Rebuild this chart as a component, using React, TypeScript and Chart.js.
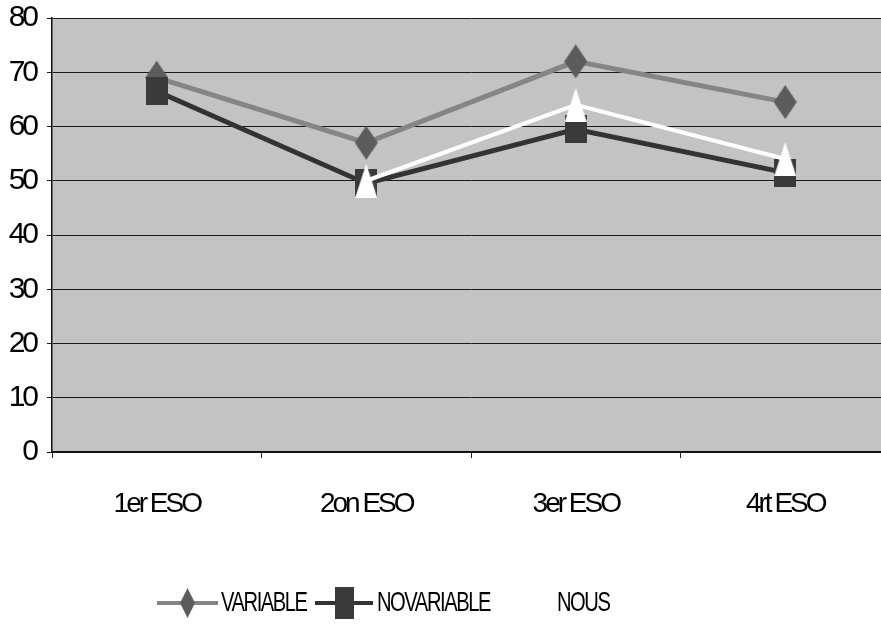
import React, { useEffect, useRef } from "react";
import { Chart, registerables } from "chart.js";

Chart.register(...registerables);

// Course levels along the x axis
const categories = ["1er ESO", "2on ESO", "3er ESO", "4rt ESO"];

// Series values (percent)
const variableValues = [69, 57, 72, 64.5];
const noVariableValues = [66.5, 49.5, 59.5, 51.5];
const nousValues: (number | null)[] = [null, 50, 64, 54];

const seriesLabels = ["VARIABLE", "NOVARIABLE", "NOUS"];

// Value axis range
const yMin = 0;
const yMax = 80;
const yStep = 10;

const FONT = '"Liberation Sans Narrow", "Arial Narrow", "Liberation Sans", Arial, sans-serif';
const PLOT_FILL = "#c3c3c3";

type Shape = "diamond" | "square" | "triangle";

function makeMarker(shape: Shape, w: number, h: number, fill: string): HTMLCanvasElement {
  const c = document.createElement("canvas");
  c.width = w;
  c.height = h;
  const g = c.getContext("2d")!;
  g.fillStyle = fill;
  g.beginPath();
  if (shape === "diamond") {
    g.moveTo(w / 2, 0);
    g.lineTo(w, h / 2);
    g.lineTo(w / 2, h);
    g.lineTo(0, h / 2);
  } else if (shape === "square") {
    g.rect(0, 0, w, h);
  } else {
    g.moveTo(w / 2, 0);
    g.lineTo(w, h);
    g.lineTo(0, h);
  }
  g.closePath();
  g.fill();
  return c;
}

// Fills the plot area and sets tight letter spacing for the axis text
const plotBackground = {
  id: "plotBackground",
  beforeDraw(chart: any) {
    const { ctx, chartArea } = chart;
    ctx.save();
    ctx.fillStyle = PLOT_FILL;
    ctx.fillRect(chartArea.left, chartArea.top, chartArea.right - chartArea.left, chartArea.bottom - chartArea.top);
    ctx.restore();
    ctx.letterSpacing = "-3px";
  },
};

// Legend row under the axis: line sample with its marker, then the series name
const bottomLegend = {
  id: "bottomLegend",
  afterDraw(chart: any) {
    const ctx = chart.ctx as CanvasRenderingContext2D;
    const rowY = 603;
    const squeeze = 0.72;
    const entries = [
      { x0: 157, x1: 218, mw: 15, mh: 30, tx: 221 },
      { x0: 315, x1: 373, mw: 19, mh: 32, tx: 377 },
      { x0: 495, x1: 553, mw: 17, mh: 30, tx: 557 },
    ];
    ctx.save();
    entries.forEach((e, i) => {
      const ds = chart.data.datasets[i];
      ctx.strokeStyle = ds.borderColor;
      ctx.lineWidth = 4;
      ctx.beginPath();
      ctx.moveTo(e.x0, rowY);
      ctx.lineTo(e.x1, rowY);
      ctx.stroke();
      const img = ds.pointStyle as HTMLCanvasElement;
      const mx = (e.x0 + e.x1) / 2;
      ctx.drawImage(img, mx - e.mw / 2, rowY - e.mh / 2, e.mw, e.mh);

      ctx.save();
      (ctx as any).letterSpacing = "-2px";
      ctx.font = `28px ${FONT}`;
      ctx.textBaseline = "alphabetic";
      ctx.textAlign = "left";
      ctx.fillStyle = "#000";
      ctx.translate(e.tx, 611);
      ctx.scale(squeeze, 1);
      ctx.fillText(ds.label, 0, 0);
      ctx.restore();
    });
    ctx.restore();
  },
};

export default function App() {
  const canvasRef = useRef<HTMLCanvasElement | null>(null);

  useEffect(() => {
    document.body.style.margin = "0";
    const canvas = canvasRef.current!;
    const diamond = makeMarker("diamond", 23, 34, "#5c5c5c");
    const square = makeMarker("square", 22, 28, "#3a3a3a");
    const triangle = makeMarker("triangle", 22, 34, "#ffffff");

    const chart = new Chart(canvas, {
      type: "line",
      data: {
        labels: categories,
        datasets: [
          {
            label: seriesLabels[0],
            data: variableValues,
            borderColor: "#858585",
            borderWidth: 5,
            pointStyle: diamond as any,
            pointRadius: 12,
            tension: 0,
            order: 3,
          },
          {
            label: seriesLabels[1],
            data: noVariableValues,
            borderColor: "#333333",
            borderWidth: 5,
            pointStyle: square as any,
            pointRadius: 12,
            tension: 0,
            order: 2,
          },
          {
            label: seriesLabels[2],
            data: nousValues,
            borderColor: "#ffffff",
            borderWidth: 4,
            pointStyle: triangle as any,
            pointRadius: 12,
            tension: 0,
            spanGaps: false,
            order: 1,
          },
        ],
      },
      options: {
        responsive: false,
        animation: false,
        events: [],
        layout: { autoPadding: false, padding: { top: 18, left: 0, right: 0, bottom: 0 } },
        plugins: {
          legend: { display: false },
          tooltip: { enabled: false },
        },
        scales: {
          x: {
            type: "category",
            offset: true,
            grid: {
              offset: true,
              drawOnChartArea: false,
              drawTicks: true,
              tickLength: 6,
              color: "#222",
            },
            border: { display: true, color: "#111", width: 1.5 },
            ticks: {
              color: "#000",
              padding: 29,
              maxRotation: 0,
              font: { family: FONT, size: 28 },
            },
            afterFit(scale: any) {
              scale.height = 173;
              scale.paddingLeft = 0;
              scale.paddingRight = 0;
            },
          },
          y: {
            min: yMin,
            max: yMax,
            ticks: {
              stepSize: yStep,
              color: "#000",
              padding: 11,
              font: { family: FONT, size: 30 },
            },
            grid: {
              color: "#1a1a1a",
              lineWidth: 1,
              tickLength: 5,
            },
            border: { display: true, color: "#111", width: 1.5 },
            afterFit(scale: any) {
              scale.width = 52;
              scale.paddingTop = 0;
              scale.paddingBottom = 0;
            },
          },
        },
      },
      plugins: [plotBackground, bottomLegend],
    });

    return () => chart.destroy();
  }, []);

  return (
    <div style={{ width: 881, height: 625, overflow: "hidden", position: "relative", background: "#fff" }}>
      <canvas ref={canvasRef} width={890} height={625} style={{ display: "block" }} />
    </div>
  );
}
